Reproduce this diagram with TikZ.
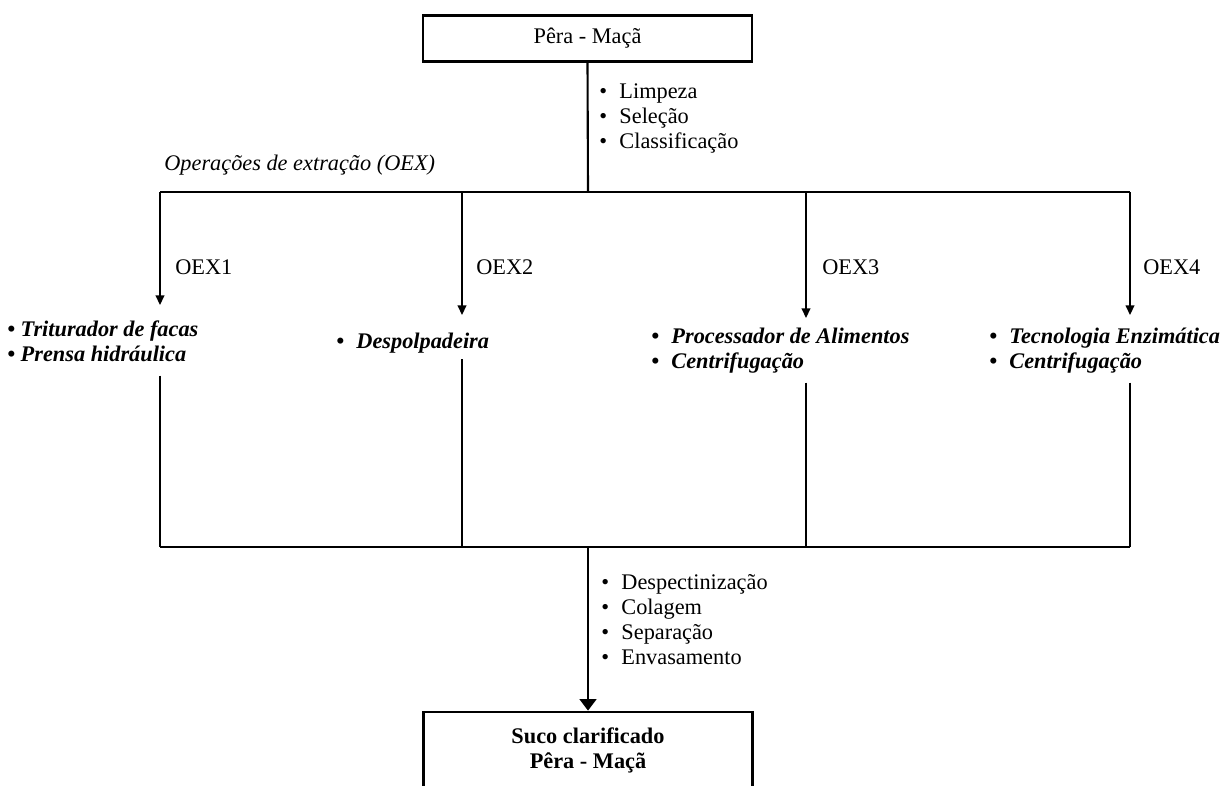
\documentclass[tikz,border=0pt]{standalone}
\usepackage{fontspec}
\setmainfont{Liberation Serif}
\usetikzlibrary{arrows.meta,positioning}
\newcommand{\itm}{\textbullet\hspace{0.55em}}
\newcommand{\txt}{\fontsize{12.7}{14.2}\selectfont}
\tikzset{
  box/.style={draw,line width=1.6pt,minimum width=6.58cm,align=center},
  items/.style={anchor=north west,inner sep=0pt,align=left},
  tools/.style={items,font=\txt\bfseries\itshape},
  arr/.style={-{Triangle[width=5pt,length=5.5pt]},line width=0.8pt},
}
\begin{document}
\begin{tikzpicture}[x=0.02cm,y=-0.02cm,font=\txt]
\useasboundingbox (0,0) rectangle (1226,785);
\clip (0,0) rectangle (1226,785);
\node [box,minimum height=0.92cm] (fruit) at (587.5,38.5) {Pêra - Maçã};
\node [items] (prep) at (599,83) {\itm Limpeza\\ \itm Seleção\\ \itm Classificação};
\node [anchor=base west,inner sep=0pt,font=\txt\itshape] (oex) at (164,170)
    {Operações de extração (OEX)};
\coordinate (split) at (588,192);
\coordinate (join) at (588,547);
\foreach \i/\x in {1/160,2/462,3/806,4/1130}
    \coordinate (b\i) at (\x,192);
\draw [line width=1.2pt] (fruit.south) -- (split);
\draw [line width=1.2pt] (b1) -- (b4);
\node [tools] (t1) at (7,320) {\textbullet\ Triturador de facas\\ \textbullet\ Prensa hidráulica};
\node [tools] (t2) at (336,333) {\itm Despolpadeira};
\node [tools] (t3) at (651,328) {\itm Processador de Alimentos\\ \itm Centrifugação};
\node [tools] (t4) at (989,328) {\itm Tecnologia Enzimática\\ \itm Centrifugação};
\foreach \i/\len/\lx/\gap in {1/113/175/8pt,2/123/476/3pt,3/126/822/5pt,4/123/1143/5pt} {
    \draw [arr] (b\i) -- ++(0,\len);
    \node [anchor=base west,inner sep=0pt] (lab\i) at (\lx,274) {OEX\i};
    \draw [line width=0.6pt,shorten <=\gap] (b\i |- t\i.south) -- (b\i |- join);
}
\draw [line width=1pt] (b1 |- join) -- (b4 |- join);
\node [box,minimum height=1.52cm,font=\txt\bfseries] (juice) at (588,750)
    {Suco clarificado\\ Pêra - Maçã};
\draw [line width=1.2pt,-{Triangle[width=9.5pt,length=6.5pt]}] (join) -- (juice.north);
\node [items] (post) at (601,574)
    {\itm Despectinização\\ \itm Colagem\\ \itm Separação\\ \itm Envasamento};
\end{tikzpicture}
\end{document}
